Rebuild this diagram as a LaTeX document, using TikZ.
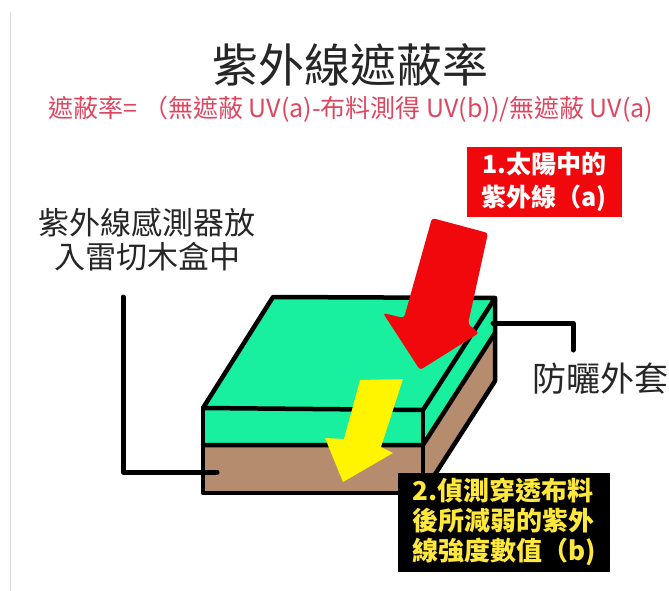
\documentclass[tikz,border=0pt]{standalone}
\usepackage{fontspec}
\setmainfont{Noto Sans CJK TC}

\definecolor{topgreen}{RGB}{24,240,160}
\definecolor{wood}{RGB}{181,140,110}
\definecolor{sunred}{RGB}{240,8,12}
\definecolor{formulared}{RGB}{222,70,95}
\definecolor{labelyellow}{RGB}{255,232,60}
\definecolor{arrowyellow}{RGB}{255,245,0}

\tikzset{>=latex}
\tikzset{
  edge/.style={line width=4.5pt, line join=round, line cap=round},
  lead/.style={line width=5pt, line join=round, line cap=round},
  darktext/.style={text=black!85, align=center, inner sep=0pt},
}

\begin{document}
\begin{tikzpicture}[x=1pt,y=-1pt]
\useasboundingbox (0,0) rectangle (669,591);
\draw[black!15, line width=1pt] (10,12) -- (10,591);

% Title and formula
\node[darktext, font=\fontsize{46}{50}\selectfont] (title) at (350,65) {紫外線遮蔽率};
\node[text=formulared, inner sep=0pt, font=\fontsize{25}{28}\selectfont] (formula) at (351,109)
  {遮蔽率= （無遮蔽 UV(a)-布料測得 UV(b))/無遮蔽 UV(a)};

% Box corners
\coordinate (tl) at (273,297);
\coordinate (tr) at (495,298);
\coordinate (fl) at (203,408);
\coordinate (fr) at (423,410);
\coordinate (ml) at (203,445);
\coordinate (mr) at (423,445);
\coordinate (bl) at (203,493);
\coordinate (br) at (423,493);
\coordinate (rm) at (495,333);
\coordinate (rb) at (495,381);

% Box faces
\fill[topgreen] (tl) -- (tr) -- (fr) -- (fl) -- cycle;
\fill[topgreen] (fl) -- (fr) -- (mr) -- (ml) -- cycle;
\fill[topgreen] (fr) -- (tr) -- (rm) -- (mr) -- cycle;
\fill[wood] (ml) -- (mr) -- (br) -- (bl) -- cycle;
\fill[wood] (mr) -- (rm) -- (rb) -- (br) -- cycle;

\draw[edge] (tl) -- (tr) -- (fr) -- (fl) -- cycle;
\draw[edge] (fl) -- (bl) -- (br) -- (fr);
\draw[edge] (ml) -- (mr) -- (rm);
\draw[edge] (br) -- (rb) -- (tr);

% Leads to the labels
\coordinate (sensor) at (217,472);
\coordinate (sensortop) at (123,297);
\draw[lead] (sensortop) |- (sensor);
\coordinate (coat) at (493,323);
\coordinate (coatend) at (573,350);
\draw[lead] (coat) -| (coatend);

% UV arrows
\fill[arrowyellow] (360,380) -- (403,379) -- (381,447) -- (393,453) -- (343,482)
  -- (325,438) -- (344,439) -- cycle;
\fill[sunred, rounded corners=3pt] (432,218) -- (488,233) -- (468,324) -- (479,333)
  -- (420,370) -- (383,313) -- (404,318) -- cycle;

% Labels
\node[fill=sunred, text=white, font=\bfseries\fontsize{25}{33}\selectfont, align=center,
  minimum width=155pt, minimum height=70pt, inner sep=0pt] (sunlabel) at (544,182)
  {1.太陽中的\\紫外線（a)};
\node[fill=black, text=labelyellow, font=\bfseries\fontsize{26}{30}\selectfont, align=left,
  minimum width=212pt, minimum height=99pt, inner sep=0pt] (readlabel) at (504,522)
  {2.偵測穿透布料\\後所減弱的紫外\\線強度數值（b)};
\node[darktext, font=\fontsize{31}{34}\selectfont] (sensorlabel) at (147,240)
  {紫外線感測器放\\入雷切木盒中};
\node[darktext, font=\fontsize{34}{38}\selectfont] (coatlabel) at (600,379) {防曬外套};

\end{tikzpicture}
\end{document}
